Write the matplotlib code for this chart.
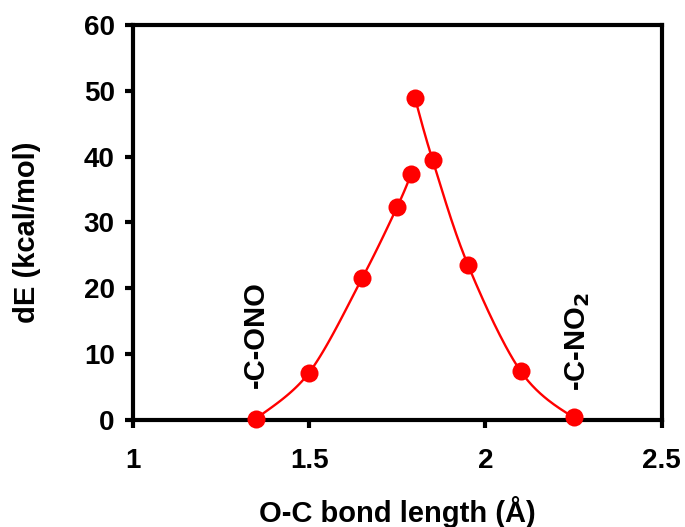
import numpy as np
import matplotlib
matplotlib.use("Agg")
import matplotlib.pyplot as plt

plt.rcParams['font.family'] = ['Liberation Sans', 'DejaVu Sans']
plt.rcParams['font.weight'] = 'bold'

# data
bond_left = [1.35, 1.50, 1.65, 1.75, 1.79]
dE_left = [0.2, 7.2, 21.5, 32.4, 37.4]
bond_right = [1.80, 1.85, 1.95, 2.10, 2.25]
dE_right = [48.9, 39.5, 23.6, 7.4, 0.4]
tail_x = 2.31
tail_y = 0.1


def smooth(xs, ys, n=30):
    # excel-like smoothed line (bezier through points)
    p = np.column_stack([xs, ys])
    p_ext = np.vstack([p[0], p, p[-1]])
    out = []
    for i in range(1, len(p_ext) - 2):
        p0, p1, p2, p3 = p_ext[i - 1], p_ext[i], p_ext[i + 1], p_ext[i + 2]
        c1 = p1 + (p2 - p0) / 6
        c2 = p2 - (p3 - p1) / 6
        t = np.linspace(0, 1, n)[:, None]
        seg = ((1 - t) ** 3) * p1 + 3 * ((1 - t) ** 2) * t * c1 + 3 * (1 - t) * t ** 2 * c2 + t ** 3 * p2
        out.append(seg)
    out = np.vstack(out)
    return out[:, 0], out[:, 1]


fig = plt.figure(figsize=(6.85, 5.27), dpi=100)
ax = fig.add_axes([0.194, 0.203, 0.772, 0.750])

lx, ly = smooth(bond_left, dE_left)
rx, ry = smooth(bond_right + [tail_x], dE_right + [tail_y])
ax.plot(lx, ly, color='red', lw=1.7, zorder=2)
ax.plot(rx, ry, color='red', lw=1.7, zorder=2)
ax.plot(bond_left + bond_right, dE_left + dE_right, 'o', color='red', ms=13,
        markeredgewidth=0, zorder=3, clip_on=False)

ax.set_xlim(1, 2.5)
ax.set_ylim(0, 60)
ax.set_xticks([1, 1.5, 2, 2.5])
ax.set_xticklabels(['1', '1.5', '2', '2.5'])
ax.set_yticks(range(0, 61, 10))

for s in ax.spines.values():
    s.set_linewidth(3)
ax.tick_params(direction='out', length=6, width=3, labelsize=20, pad=7)
ax.tick_params(axis='x', pad=14)

ax.set_xlabel('O-C bond length (Å)', fontsize=21, fontweight='bold', labelpad=16)
ax.set_ylabel('dE (kcal/mol)', fontsize=21, fontweight='bold')
ax.yaxis.set_label_coords(-0.174, 0.476)

ax.text(1.35, 4.8, '-C-ONO', rotation=90, ha='center', va='bottom',
        fontsize=21, fontweight='bold')
ax.text(2.262, 4.4, '-C-NO$_\\mathbf{2}$', rotation=90, ha='center', va='bottom',
        fontsize=21, fontweight='bold')

fig.savefig('out.png', dpi=100)
